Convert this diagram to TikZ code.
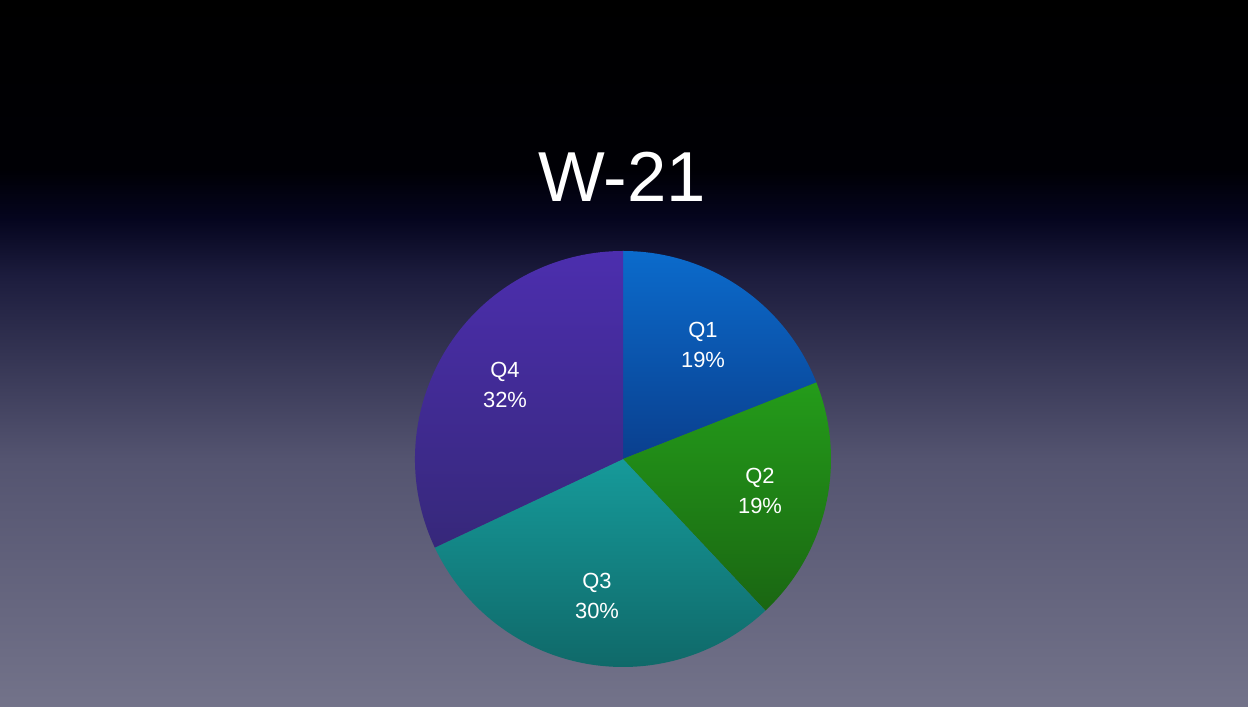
\documentclass[tikz,border=0pt]{standalone}
\usepackage{fontspec}
\setmainfont{Liberation Sans}
\definecolor{b0}{rgb}{0.45,0.45,0.54}
\definecolor{b1}{rgb}{0.33,0.33,0.44}
\definecolor{b2}{rgb}{0.11,0.11,0.24}
\definecolor{b3}{rgb}{0.02,0.02,0.12}
\definecolor{b4}{rgb}{0,0,0.02}
\definecolor{b5}{rgb}{0,0,0}
\pgfdeclareverticalshading{bg}{100bp}{
  color(0bp)=(b0);
  color(25bp)=(b0);
  color(42.5bp)=(b1);
  color(55.5bp)=(b2);
  color(59.5bp)=(b3);
  color(63bp)=(b4);
  color(75bp)=(b5);
  color(100bp)=(b5)}
\definecolor{qAt}{HTML}{0B6BCC}\definecolor{qAb}{HTML}{0A3F8E}
\definecolor{qBt}{HTML}{249C1A}\definecolor{qBb}{HTML}{1A6612}
\definecolor{qCt}{HTML}{169A9A}\definecolor{qCb}{HTML}{0F6666}
\definecolor{qDt}{HTML}{4C2EAE}\definecolor{qDb}{HTML}{36287A}
\tikzset{lbl/.style={text=white,font=\fontsize{22}{30}\selectfont,align=center}}
\begin{document}
\begin{tikzpicture}[x=1bp,y=1bp]
\useasboundingbox (0,0) rectangle (1248,707);
\shade[shading=bg] (0,0) rectangle (1248,707);
\coordinate (c) at (623,248);
\def\r{208}
\shade[top color=qAt,bottom color=qAb] (c) -- ++(90:\r) arc[start angle=90,end angle=21.6,radius=\r] -- cycle;
\shade[top color=qBt,bottom color=qBb] (c) -- ++(21.6:\r) arc[start angle=21.6,end angle=-46.8,radius=\r] -- cycle;
\shade[top color=qCt,bottom color=qCb] (c) -- ++(-46.8:\r) arc[start angle=-46.8,end angle=-154.8,radius=\r] -- cycle;
\shade[top color=qDt,bottom color=qDb] (c) -- ++(205.2:\r) arc[start angle=205.2,end angle=90,radius=\r] -- cycle;
\node[text=white,font=\fontsize{71}{80}\selectfont] (title) at (622,530) {W-21};
\node[lbl] (q1) at (703,362) {Q1\\19\%};
\node[lbl] (q2) at (760,216) {Q2\\19\%};
\node[lbl] (q3) at (597,111) {Q3\\30\%};
\node[lbl] (q4) at (505,322) {Q4\\32\%};
\end{tikzpicture}
\end{document}
